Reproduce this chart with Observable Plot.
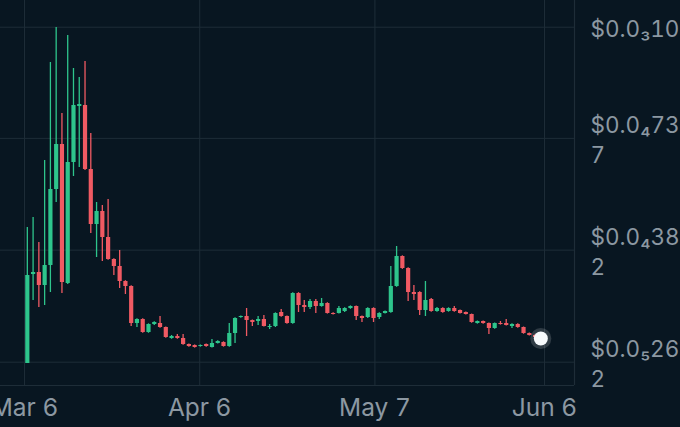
<!DOCTYPE html>
<html>
<head>
<meta charset="utf-8">
<script src="https://cdn.jsdelivr.net/npm/d3@7"></script>
<script src="https://cdn.jsdelivr.net/npm/@observablehq/plot@0.6"></script>
<style>
  html, body { margin: 0; padding: 0; background: #081621; overflow: hidden; width: 680px; height: 427px; }
  #chart svg { display: block; }
</style>
</head>
<body>
<div id="chart"></div>
<script>
// Daily candles, prices in millionths of a dollar (×1e-6 $)
const open = [
  2.21, 30.47, 31.11, 26.97, 33.33, 57.46, 71.75, 27.61, 66.04, 83.82,
  84.14, 63.81, 46.35, 50.48, 42.22, 35.23, 33.01, 28.25, 26.66, 14.91,
  16.18, 12.05, 14.59, 14.91, 13.64, 10.15, 10.78, 10.15, 8.24, 7.92,
  7.61, 8.24, 7.29, 8.56, 8.88, 7.61, 11.73, 16.81, 17.13, 15.86,
  15.55, 16.18, 13.64, 13.96, 18.40, 17.13, 14.91, 24.44, 20.62, 19.99,
  21.89, 20.31, 21.26, 18.08, 18.08, 18.72, 19.67, 20.31, 17.13, 16.81,
  19.67, 16.81, 18.08, 18.40, 26.66, 36.19, 32.37, 24.75, 24.75, 19.04,
  22.53, 18.72, 19.67, 18.72, 19.67, 19.04, 18.40, 17.77, 14.91, 15.55,
  14.91, 13.32, 14.91, 14.91, 13.96, 14.59, 13.64, 11.73, 11.10, 10.46
];
const high = [
  45.39, 48.57, 40.63, 66.67, 97.79, 108.91, 81.60, 106.37, 95.89, 93.03,
  98.11, 75.25, 53.33, 52.38, 54.29, 35.50, 38.09, 28.50, 26.90, 16.40,
  16.40, 14.80, 15.50, 17.13, 13.80, 11.10, 11.42, 11.42, 8.40, 8.10,
  8.10, 8.40, 9.83, 9.40, 9.10, 14.91, 16.70, 17.30, 19.67, 16.00,
  17.13, 17.45, 14.59, 18.30, 19.35, 17.30, 24.70, 24.70, 22.21, 22.53,
  22.53, 22.85, 21.50, 18.30, 20.31, 19.90, 20.50, 20.50, 17.30, 19.90,
  19.90, 18.30, 18.90, 33.01, 39.36, 36.40, 32.60, 26.97, 25.00, 28.25,
  22.85, 19.99, 19.90, 19.90, 20.31, 19.20, 18.60, 17.90, 15.70, 15.70,
  15.10, 15.10, 15.55, 16.18, 14.80, 14.80, 13.80, 11.90, 11.30, 10.60
];
const low = [
  2.21, 22.21, 19.99, 20.62, 24.75, 53.33, 24.44, 27.30, 61.59, 64.45,
  63.50, 43.49, 35.87, 34.60, 35.00, 30.15, 26.02, 24.12, 13.96, 13.64,
  11.80, 11.80, 14.30, 13.40, 10.20, 9.90, 9.90, 8.00, 7.40, 7.10,
  7.40, 7.40, 7.10, 8.40, 7.40, 7.40, 8.56, 16.60, 10.78, 13.96,
  14.27, 13.80, 13.00, 13.64, 16.90, 14.70, 14.70, 18.40, 18.40, 19.35,
  18.08, 20.10, 17.90, 17.60, 17.90, 18.40, 19.40, 15.86, 15.23, 16.50,
  15.23, 16.18, 17.90, 18.20, 26.40, 32.10, 21.89, 22.21, 17.45, 17.13,
  18.50, 18.50, 18.20, 18.50, 18.50, 17.90, 17.60, 15.00, 14.70, 14.70,
  11.42, 13.10, 14.40, 14.10, 13.32, 13.40, 11.50, 10.90, 10.30, 10.00
];
const close = [
  30.15, 31.11, 26.97, 33.33, 57.46, 71.75, 27.93, 66.04, 84.14, 84.45,
  63.81, 46.35, 50.48, 42.22, 35.23, 33.01, 28.25, 26.66, 14.91, 16.18,
  12.05, 14.59, 15.23, 13.64, 10.46, 10.78, 10.15, 8.24, 7.61, 7.29,
  7.92, 7.61, 8.56, 9.19, 7.61, 11.73, 16.50, 17.13, 15.86, 15.23,
  16.18, 13.96, 13.96, 18.08, 17.13, 14.91, 24.44, 20.62, 19.99, 21.89,
  20.31, 21.26, 18.08, 17.77, 19.67, 19.67, 20.31, 17.13, 16.50, 19.67,
  16.50, 18.08, 18.72, 26.66, 36.19, 32.37, 24.75, 24.12, 19.04, 22.21,
  18.72, 19.67, 18.40, 19.67, 18.72, 18.08, 17.77, 15.23, 15.55, 14.91,
  13.32, 14.91, 14.59, 14.27, 14.59, 13.64, 11.73, 11.10, 10.46, 10.15
];

// Axis ticks
const xTicks = [
  new Date(Date.UTC(2024, 2, 6)),
  new Date(Date.UTC(2024, 3, 6)),
  new Date(Date.UTC(2024, 4, 7)),
  new Date(Date.UTC(2024, 5, 6))
];
const yTicks = [109e-6, 73.7e-6, 38.2e-6, 2.62e-6];
const yTickLabels = ["$0.0\u2083109", "$0.0\u208473\n7", "$0.0\u208438\n2", "$0.0\u208526\n2"];

// Candle timestamps (one candle per period starting Mar 6)
const t0 = Date.UTC(2024, 2, 6, 12);
const periodMs = 24.5 * 3600e3;

const rows = close.map((c, i) => ({
  date: new Date(t0 + i * periodMs),
  open: open[i] * 1e-6,
  high: high[i] * 1e-6,
  low: low[i] * 1e-6,
  close: c * 1e-6
}));
const last = rows[rows.length - 1];

const UP = "#2ec58c", DOWN = "#f05a63", GRID = "#1e2d38";
const colorOf = d => d.close >= d.open ? UP : DOWN;

const xDomain = [new Date(Date.UTC(2024, 2, 1, 18, 6)), new Date(Date.UTC(2024, 5, 11, 7, 26))];
const yDomain = [-4.78e-6, 117.48e-6];

const chart = Plot.plot({
  width: 680,
  height: 427,
  marginLeft: 0,
  marginRight: 106,
  marginTop: 0,
  marginBottom: 42,
  style: { background: "#081621", color: "#8c98a2", fontFamily: "Inter, Roboto, sans-serif", overflow: "visible" },
  x: { type: "utc", domain: xDomain },
  y: { domain: yDomain },
  marks: [
    Plot.gridY(yTicks, { stroke: GRID, strokeOpacity: 1 }),
    Plot.gridX(xTicks, { stroke: GRID, strokeOpacity: 1 }),
    Plot.ruleY([yDomain[0]], { stroke: GRID, strokeWidth: 1.2 }),
    Plot.ruleX([xDomain[1]], { stroke: GRID, strokeWidth: 1.2 }),
    Plot.ruleX(rows, { x: "date", y1: "low", y2: "high", stroke: colorOf, strokeWidth: 1.3 }),
    Plot.ruleX(rows, { x: "date", y1: "open", y2: "close", stroke: colorOf, strokeWidth: 4.2 }),
    Plot.dot([last], { x: "date", y: "close", r: 10.5, fill: "#ffffff", fillOpacity: 0.16 }),
    Plot.dot([last], { x: "date", y: "close", r: 7, fill: "#f7fafc" }),
    Plot.axisX({ ticks: xTicks, tickFormat: d3.utcFormat("%b %-d"), tickSize: 0, tickPadding: 13, fontSize: 24.5, label: null }),
    Plot.axisY({ anchor: "right", ticks: yTicks, tickFormat: d => yTickLabels[yTicks.indexOf(d)], tickSize: 0, tickPadding: 16, fontSize: 22.5, lineHeight: 1.33, textAnchor: "start", label: null })
  ]
});
document.getElementById("chart").appendChild(chart);
</script>
</body>
</html>
